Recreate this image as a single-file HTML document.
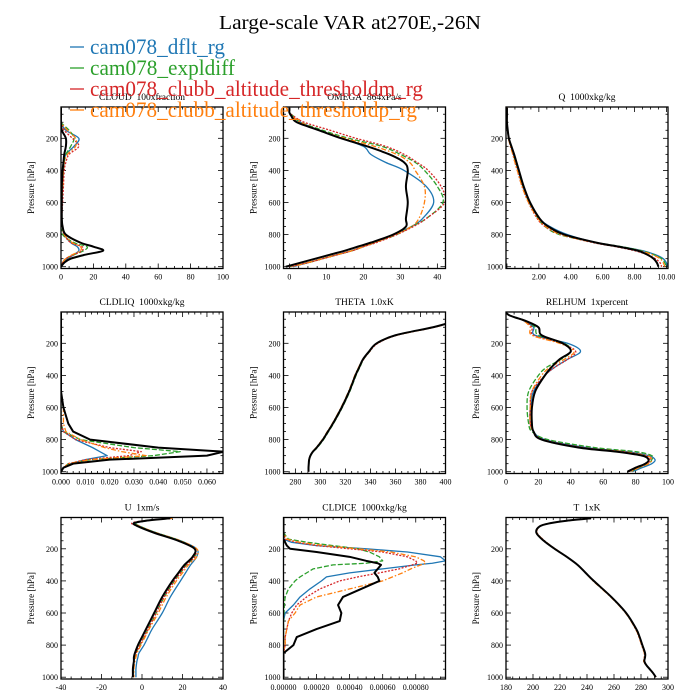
<!DOCTYPE html>
<html><head><meta charset="utf-8"><title>Large-scale VAR</title>
<style>
html,body{margin:0;padding:0;background:#fff;}
svg{display:block;font-family:"Liberation Serif",serif;}
</style></head>
<body>
<svg id="chart" width="700" height="700" viewBox="0 0 700 700" xmlns="http://www.w3.org/2000/svg">
<text x="350" y="29" text-anchor="middle" font-size="20" textLength="262" lengthAdjust="spacingAndGlyphs">Large-scale VAR at270E,-26N</text>
</svg>
<script>
// ---------- data ----------
const levels = [10,25,40,60,100,150,200,250,300,350,400,500,600,700,750,800,850,875,900,925,950,975,1000];
const iceLevels = [10,100,140,160,180,200,220,250,275,290,300,325,350,375,400,450,500,550,600,650,700,750,800,850,900,1000];
const seriesNames = ["cam078_dflt_rg","cam078_expldiff","cam078_clubb_altitude_thresholdm_rg","cam078_clubb_altitude_thresholdp_rg","obs"];

const cloudBlue   = [0,0,0,0,0,3,11,8,3,2,1.5,1,0.5,0.5,1,2,6,10,11,8,4,1.5,0];
const cloudGreen  = [0,0,0,0,0,5,8,6,3,2,1.5,1,0.5,0.5,1,1,8,16,14,8,3,1,0];
const cloudRed    = [0,0,0,0,0,2,7,11,5,3,2,1.5,1,0.5,1,2,6,13,13,8,3,1,0];
const cloudOrange = [0,0,0,0,0,4,9,9,4,2,1.5,1,0.5,0.5,1,2,7,12,12,7,3,1,0];
const cloudBlack  = [0,0,0,0,0,0.5,3,3,2,1.5,1,0.5,0.5,0.5,1,3,12,20,26,15,6,2,0];

const omegaBlue   = [0,0,0,0.5,3,8,14,20,22,26,31,37,39,36,33,28,23,20,17,13,9,5,1];
const omegaGreen  = [0,0,0,1,3,9,16,25,30,34,36.5,40,41.5,37,33,29,23,20,17,13,9,5,0];
const omegaRed    = [0,0,0,1,4,11,18,26,31,34.5,37.5,41,42,37,33.5,29,23.5,20,17,13,9,5,0];
const omegaOrange = [0,0,0,0.5,3,8,15,23,29,32.5,34,36.5,36.5,35,33,28.5,23,20,17,13,9,5,0.5];
const omegaBlack  = [0,0,0,0.5,2,8,14,21,27,31,32,31.5,32,31.5,31.5,28,22,18.5,15,11,7,3,-1];

const qBlue   = [0,0,0,0,0,0.05,0.1,0.25,0.4,0.55,0.7,1.0,1.4,2.05,2.7,3.8,5.6,7.1,8.5,9.3,9.8,10.0,10.1];
const qGreen  = [0,0,0,0,0,0.05,0.1,0.25,0.4,0.55,0.7,1.0,1.4,1.95,2.4,3.3,5.6,7.2,8.4,9.2,9.7,9.9,10.0];
const qRed    = [0,0,0,0,0,0.05,0.1,0.22,0.37,0.5,0.65,0.95,1.35,1.9,2.4,3.4,5.4,6.8,8.0,8.8,9.3,9.6,9.7];
const qOrange = [0,0,0,0,0,0.05,0.1,0.22,0.37,0.5,0.65,0.95,1.35,1.95,2.45,3.4,5.5,7,8.3,9.1,9.6,9.8,9.9];
const qBlack  = [0,0,0,0,0,0.05,0.12,0.28,0.45,0.6,0.75,1.05,1.45,2.05,2.6,3.6,5.6,7,8.2,8.8,9.2,9.4,9.5];

const liqBlue   = [0,0,0,0,0,0,0,0,0,0,0,0,0,0,0.001,0.006,0.013,0.016,0.019,0.010,0.004,0.001,0];
const liqGreen  = [0,0,0,0,0,0,0,0,0,0,0,0,0,0,0.001,0.008,0.030,0.049,0.038,0.012,0.003,0.001,0];
const liqRed    = [0,0,0,0,0,0,0,0,0,0,0,0,0,0,0.001,0.006,0.020,0.033,0.028,0.010,0.003,0.001,0];
const liqOrange = [0,0,0,0,0,0,0,0,0,0,0,0,0.001,0.001,0.002,0.008,0.018,0.025,0.035,0.012,0.003,0.001,0];
const liqBlack  = [0,0,0,0,0,0,0,0,0,0,0,0,0.001,0.003,0.005,0.012,0.040,0.067,0.060,0.020,0.005,0.001,0];

const thBlue   = [480,450,430,410,390,360,345,339,334,331,328,323,317,310,306,302,297,294,292,291,290.7,290.5,290.5];
const thGreen  = [480,450,430,410,390,360,345,339.5,334.5,331.5,328.5,323.5,317.5,310.5,306.5,302.5,297.5,294.3,292.2,291.1,290.8,290.6,290.6];
const thRed    = [480,450,430,410,391,361,346,339.5,334.5,331,328,323,317,310,306,302,297,294,292,291,290.7,290.5,290.5];
const thOrange = [480,450,430,410,391,361,345.5,339,334,330.5,327.5,322.5,316.5,309.5,305.5,301.5,296.5,293.8,291.9,290.9,290.6,290.4,290.4];
const thBlack  = [480,450,430,410,390,360,345,339,334,331,328,323,317,310,306,302,297,294,292,291,290.7,290.5,290.5];

const rhBlue   = [0,2,6,11,17,18,38,46,38,30,24,17,15,15,17,24,50,75,88,92,90,84,78];
const rhGreen  = [0,2,6,12,18,20,36,40,34,25,20,14,13,14,16,26,55,80,90,90,88,82,77];
const rhRed    = [0,2,6,11,16,17,34,43,38,30,24,16,15,15,17,23,48,72,86,89,87,81,76];
const rhOrange = [0,2,6,11,15,16,33,42,36,27,22,16,15,15,17,22,46,72,87,90,88,82,77];
const rhBlack  = [0,2,6,12,20,22,35,40,33,28,24,18,16,16,17,22,45,68,84,88,86,80,75];

const uBlue   = [14,2,-3,-1,7,19,27,27,24,21.5,19,14,10,5,3,1,-1.5,-2,-2.5,-2.8,-3,-3,-3];
const uGreen  = [14,1,-3,-1,7,19,26,26,22,19,16,11,7,3,1,-1,-3,-3.5,-4,-4,-4.2,-4.2,-4.2];
const uRed    = [14,1,-5,-2,6,18,26,26,22,19,16,11,7,3,1,-1,-3,-3.5,-4,-4,-4.3,-4.5,-4.5];
const uOrange = [15,2,-4,-1,7,19,27,27,23,20,17,12,8,3.5,1.5,-0.5,-2.5,-3,-3.5,-3.8,-4,-4,-4];
const uBlack  = [14,2,-4,-2,6,18,26,25,21,18,15,10,6,2,0,-2,-3.5,-4,-4,-4.3,-4.5,-4.5,-4.5];

const iceBlue   = [0,0,0,0.00005,0.0002,0.0005,0.00075,0.00095,0.00098,0.0009,0.0008,0.0006,0.0004,0.00026,0.00023,0.00016,0.0001,0.00006,0.00001,0,0,0,0,0,0,0];
const iceGreen  = [0,0,0.00003,0.00015,0.0003,0.00045,0.00052,0.00058,0.0006,0.0005,0.0003,0.00018,0.00014,0.0001,0.00007,0.00003,0.00001,0.000005,0.000003,0,0,0,0,0,0,0];
const iceRed    = [0,0,0.00001,0.00008,0.0002,0.0004,0.0006,0.00075,0.0008,0.00081,0.00078,0.0007,0.00058,0.00045,0.00034,0.00022,0.00014,0.00008,0.00005,0.00003,0.00002,0.00001,0.00001,0,0,0];
const iceOrange = [0,0,0.00002,0.0001,0.00025,0.00045,0.00065,0.0008,0.00085,0.00086,0.00083,0.00077,0.00072,0.00066,0.0006,0.0004,0.0002,0.0001,0.00007,0.00003,0.00002,0.00001,0.00001,0,0,0];
const iceBlack  = [0,0,0,0.00001,0.00002,0.00004,0.0002,0.0004,0.0005,0.00057,0.00059,0.00057,0.00055,0.00057,0.00058,0.00047,0.00036,0.00033,0.00035,0.00034,0.0002,0.00008,0.00006,0,0,0];

const tBlue   = [243,225,213,205,202.5,208,216,225,233,239,245,258,269,276.5,279,281,283,283,282.5,284,286.5,289,291];
const tGreen  = [243,225,213,205,202.5,208,216,225,233,239,245,258,269,276.5,279,281,283,283,282.5,284,286.5,289,291];
const tRed    = [243,225,213,205,203,208.5,216,225,233,239,245,258,269,276,278.5,280.5,282.5,282.5,282,283.8,286.5,289,291];
const tOrange = [243,225,213,205,203,208.5,216.5,225,233,239,244.5,257.5,268.5,276,278.5,280.5,282.5,282.5,282,283.8,286.5,289,291];
const tBlack  = [243,225,213,205,202.5,208,216,225,233,239,245,258,269,276.5,279,281,283,283,282.5,284,286.5,289,291];

const cloudTicks = ["0","20","40","60","80","100"];
const omegaTicks = ["0","10","20","30","40"];
const qTicks = ["2.00","4.00","6.00","8.00","10.00"];
const liqTicks = ["0.000","0.010","0.020","0.030","0.040","0.050","0.060"];
const thTicks = ["280","300","320","340","360","380","400"];
const rhTicks = ["0","20","40","60","80","100"];
const uTicks = ["-40","-20","0","20","40"];
const iceTicks = ["0.00000","0.00020","0.00040","0.00060","0.00080"];
const tTicks = ["180","200","220","240","260","280","300"];
const pTicks = ["200","400","600","800","1000"];

// ---------- drawing ----------
const NS = "http://www.w3.org/2000/svg";
const svg = document.getElementById("chart");
const colors = ["#1f77b4","#2ca02c","#d62728","#ff7f0e","#000000"];
const dashes = ["", "5,2", "2,1.5", "5,2,1.5,2", ""];
const widths = [1.3,1.3,1.3,1.3,2];
function mk(tag, attrs, parent){
  const e = document.createElementNS(NS, tag);
  for (const k in attrs) e.setAttribute(k, attrs[k]);
  (parent||svg).appendChild(e);
  return e;
}
function smoothPath(pts){
  let d = "M" + pts[0][0].toFixed(2) + "," + pts[0][1].toFixed(2);
  for (let i = 0; i < pts.length - 1; i++) {
    const p0 = pts[Math.max(0, i-1)], p1 = pts[i], p2 = pts[i+1], p3 = pts[Math.min(pts.length-1, i+2)];
    const t = 1/6;
    const c1x = p1[0] + (p2[0]-p0[0])*t, c1y = p1[1] + (p2[1]-p0[1])*t;
    const c2x = p2[0] - (p3[0]-p1[0])*t, c2y = p2[1] - (p3[1]-p1[1])*t;
    d += "C" + c1x.toFixed(2) + "," + c1y.toFixed(2) + " " + c2x.toFixed(2) + "," + c2y.toFixed(2) + " " + p2[0].toFixed(2) + "," + p2[1].toFixed(2);
  }
  return d;
}
const cols = [61,283.5,506];
const rowTop = [107,312,517.5];
const W = 162, H = 161.5;
const pScale = 0.1605; // px per hPa

const panels = [
 {name:"cloud", title:"CLOUD\u00a0\u00a0100xfraction", col:0,row:0, xmin:0, xmax:100, ticks:cloudTicks, minor:4, lev:levels, smooth:true, s:[cloudBlue,cloudGreen,cloudRed,cloudOrange,cloudBlack]},
 {name:"omega", title:"OMEGA\u00a0\u00a0864xPa/s", col:1,row:0, xmin:-1.6, xmax:42.2, ticks:omegaTicks, minor:4, lev:levels, smooth:true, s:[omegaBlue,omegaGreen,omegaRed,omegaOrange,omegaBlack]},
 {name:"q", title:"Q\u00a0\u00a01000xkg/kg", col:2,row:0, xmin:-0.06, xmax:10.1, ticks:qTicks, minor:4, lev:levels, smooth:true, s:[qBlue,qGreen,qRed,qOrange,qBlack]},
 {name:"cldliq", title:"CLDLIQ\u00a0\u00a01000xkg/kg", col:0,row:1, xmin:0, xmax:0.0666, ticks:liqTicks, minor:4, lev:levels, smooth:false, s:[liqBlue,liqGreen,liqRed,liqOrange,liqBlack]},
 {name:"theta", title:"THETA\u00a0\u00a01.0xK", col:1,row:1, xmin:270.5, xmax:400, ticks:thTicks, minor:4, lev:levels, smooth:true, s:[thBlue,thGreen,thRed,thOrange,thBlack]},
 {name:"relhum", title:"RELHUM\u00a0\u00a01xpercent", col:2,row:1, xmin:0, xmax:100, ticks:rhTicks, minor:4, lev:levels, smooth:true, s:[rhBlue,rhGreen,rhRed,rhOrange,rhBlack]},
 {name:"u", title:"U\u00a0\u00a01xm/s", col:0,row:2, xmin:-40, xmax:40, ticks:uTicks, minor:4, lev:levels, smooth:true, s:[uBlue,uGreen,uRed,uOrange,uBlack]},
 {name:"cldice", title:"CLDICE\u00a0\u00a01000xkg/kg", col:1,row:2, xmin:0, xmax:0.00098, ticks:iceTicks, minor:4, lev:iceLevels, smooth:false, s:[iceBlue,iceGreen,iceRed,iceOrange,iceBlack]},
 {name:"t", title:"T\u00a0\u00a01xK", col:2,row:2, xmin:180, xmax:300, ticks:tTicks, minor:4, lev:levels, smooth:true, s:[tBlue,tGreen,tRed,tOrange,tBlack]}
];

panels.forEach(function(P, pi){
  const L = cols[P.col], T = rowTop[P.row];
  const B = T + H;
  const y1000 = B - 1.8;
  const yOf = function(p){ return y1000 - (1000 - p) * pScale; };
  const xOf = function(v){ return L + (v - P.xmin) / (P.xmax - P.xmin) * W; };
  const g = mk("g", {});
  
  

  const clipId = "clip" + pi;
  const cp = mk("clipPath", {id: clipId}, g);
  mk("rect", {x:L, y:T, width:W, height:H}, cp);

  const tt = mk("text", {x:L+W/2, y:T-7, "text-anchor":"middle", "font-size":"9.5"}, g);
  tt.textContent = P.title;
  
  

  const yl = mk("text", {x:0, y:0, "text-anchor":"middle", "font-size":"9", transform:"translate("+(L-27)+","+(T+H/2)+") rotate(-90)"}, g);
  yl.textContent = "Pressure [hPa]";
  
  

  for (let p = 50; p <= 1000; p += 50) {
    const y = yOf(p);
    const major = (p % 200 === 0);
    const len = major ? 5 : 2.5;
    mk("line", {x1:L, x2:L+len, y1:y, y2:y, stroke:"#000", "stroke-width":"0.8"}, g);
    mk("line", {x1:L+W, x2:L+W-len, y1:y, y2:y, stroke:"#000", "stroke-width":"0.8"}, g);
  }
  pTicks.forEach(function(lab){
    const tl = mk("text", {x:L-3, y:yOf(+lab)+3, "text-anchor":"end", "font-size":"8"}, g);
    tl.textContent = lab;
    
    
  });

  const tv = P.ticks.map(Number);
  const step = tv[1] - tv[0];
  const ms = step / P.minor;
  const start = Math.ceil((P.xmin - 1e-12) / ms);
  const end = Math.floor((P.xmax + 1e-12) / ms);
  for (let k = start; k <= end; k++) {
    const v = k * ms;
    const x = xOf(v);
    const major = Math.abs(((v - tv[0]) / step) - Math.round((v - tv[0]) / step)) < 1e-6;
    const len = major ? 5 : 2.5;
    mk("line", {x1:x, x2:x, y1:B, y2:B-len, stroke:"#000", "stroke-width":"0.8"}, g);
    mk("line", {x1:x, x2:x, y1:T, y2:T+len, stroke:"#000", "stroke-width":"0.8"}, g);
  }
  P.ticks.forEach(function(lab){
    const xl = mk("text", {x:xOf(+lab), y:B+11, "text-anchor":"middle", "font-size":"8"}, g);
    xl.textContent = lab;
    
    
  });

  const sg = mk("g", {"clip-path":"url(#"+clipId+")"}, g);
  P.s.forEach(function(arr, si){
    const pts = arr.map(function(v, i){ return [xOf(v), yOf(P.lev[i])]; });
    const d = P.smooth ? smoothPath(pts) : pts.map(function(q, i){ return (i ? "L" : "M") + q[0].toFixed(2) + "," + q[1].toFixed(2); }).join("");
    const path = mk("path", {d:d, fill:"none", stroke:colors[si], "stroke-width":widths[si], "stroke-linejoin":"round"}, sg);
    if (dashes[si]) path.setAttribute("stroke-dasharray", dashes[si]);
    
    
  });

  const fr = mk("rect", {x:L, y:T, width:W, height:H, fill:"none", stroke:"#000", "stroke-width":"1.3"}, g);
  
  
});

const legY = [47, 68, 89, 110];
const legLen = [135, 145, 333, 327];
const lg = mk("g", {});


for (let i = 0; i < 4; i++) {
  const ln = mk("line", {x1:70, x2:84, y1:legY[i], y2:legY[i], stroke:colors[i], "stroke-width":"1.3"}, lg);
  
  
  const tx = mk("text", {x:90, y:legY[i]+7, "font-size":"22", fill:colors[i], textLength:legLen[i], lengthAdjust:"spacingAndGlyphs"}, lg);
  tx.textContent = seriesNames[i];
  
  
}
</script>
</body></html>
